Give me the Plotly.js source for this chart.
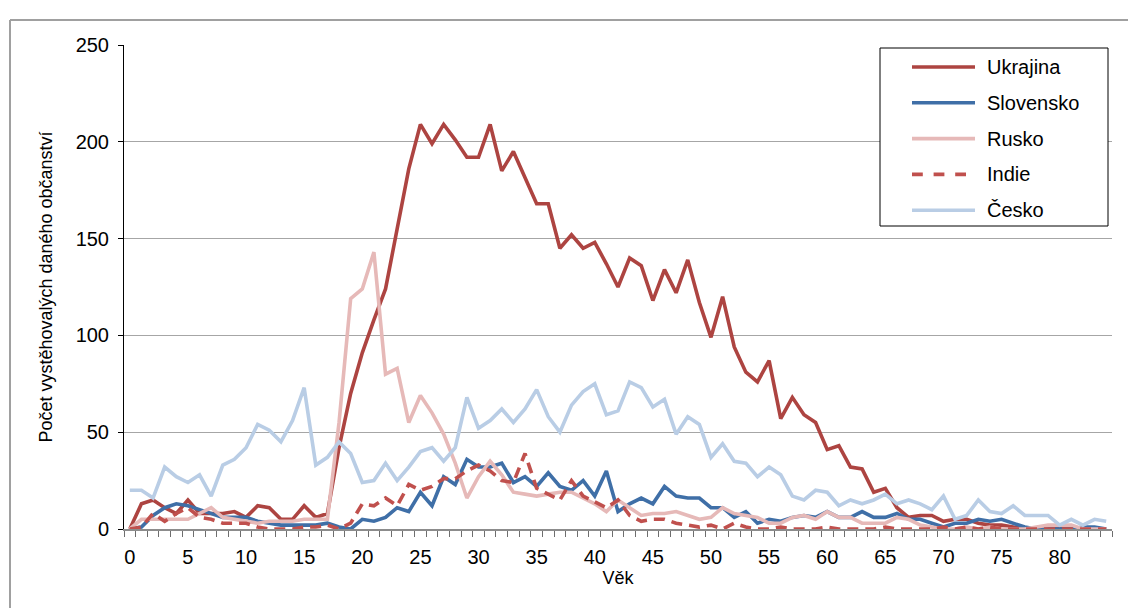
<!DOCTYPE html>
<html>
<head>
<meta charset="utf-8">
<script src="https://cdn.plot.ly/plotly-3.0.1.min.js"></script>
<style>html,body{margin:0;padding:0;background:#fff;}#chart{width:1128px;height:608px;}</style>
</head>
<body>
<div id="chart"></div>
<script>
var ages = [0,1,2,3,4,5,6,7,8,9,10,11,12,13,14,15,16,17,18,19,20,21,22,23,24,25,26,27,28,29,30,31,32,33,34,35,36,37,38,39,40,41,42,43,44,45,46,47,48,49,50,51,52,53,54,55,56,57,58,59,60,61,62,63,64,65,66,67,68,69,70,71,72,73,74,75,76,77,78,79,80,81,82,83,84];

var ukrajina = [0,13,15,11,8,15,8,8,8,9,6,12,11,5,5,12,6,8,42,70,91,108,124,155,186,209,199,209,201,192,192,209,185,195,182,168,168,145,152,145,148,137,125,140,136,118,134,122,139,117,99,120,94,81,76,87,57,68,59,55,41,43,32,31,19,21,11,6,7,7,4,5,5,3,2,2,1,0,0,0,1,0,0,0,0];

var slovensko = [0,1,7,11,13,12,10,8,6,6,6,4,3,2,2,2,2,3,1,0,5,4,6,11,9,19,12,27,23,36,32,32,34,24,27,22,29,22,20,25,17,30,9,13,16,13,22,17,16,16,11,11,6,9,3,5,4,6,7,6,9,6,6,9,6,6,8,5,5,3,1,3,3,5,4,5,3,1,0,0,0,0,1,1,0];

var rusko = [0,5,5,5,5,5,8,11,6,5,4,3,4,4,4,5,5,5,55,119,124,143,80,83,55,69,60,49,34,16,27,35,28,19,18,17,18,19,19,16,13,9,15,11,7,8,8,9,7,5,6,11,8,7,6,3,3,6,7,5,9,6,6,3,3,3,6,5,2,1,0,0,1,0,1,0,0,0,1,2,2,2,0,0,0];

var indie = [0,1,8,4,8,11,6,5,3,3,3,1,0,0,0,1,1,2,0,3,13,12,16,12,23,20,22,26,26,30,33,30,25,24,39,21,18,15,25,17,14,11,15,7,4,5,5,3,2,1,2,0,3,1,0,0,1,0,0,0,1,0,0,0,0,1,0,0,0,0,1,0,1,0,1,0,0,0,0,0,0,0,0,0,0];

var cesko = [20,20,16,32,27,24,28,17,33,36,42,54,51,45,56,73,33,37,45,39,24,25,34,25,32,40,42,35,42,68,52,56,62,55,62,72,58,50,64,71,75,59,61,76,73,63,67,49,58,54,37,44,35,34,27,32,28,17,15,20,19,12,15,13,15,18,13,15,13,10,17,5,7,15,9,8,12,7,7,7,2,5,2,5,4];

var seriesNames = ["Ukrajina","Slovensko","Rusko","Indie","Česko"];
var seriesValues = [ukrajina, slovensko, rusko, indie, cesko];
var seriesColors = ["#AD4441", "#3F6FA7", "#E6B9B8", "#C0504D", "#B9CDE5"];
var seriesDash = ["solid", "solid", "solid", "11px,7px", "solid"];
var xTickVals = [0,5,10,15,20,25,30,35,40,45,50,55,60,65,70,75,80];
var yTickVals = [0,50,100,150,200,250];

var FONT = "Liberation Sans, Arial, sans-serif";
var LW = 3.6;

var data = seriesNames.map(function(name, i){
  return {
    type: "scatter", mode: "lines", name: name, x: ages, y: seriesValues[i],
    line: {color: seriesColors[i], width: LW, dash: seriesDash[i]},
    hoverinfo: "skip", showlegend: false
  };
});

// plot area in px
var L = 124, R = 1112, T = 45, B = 529;
function px(x){ return (x - L) / (R - L); }
function py(y){ return (B - y) / (B - T); }

var shapes = [
  {type: "rect", xref: "paper", yref: "paper", x0: px(880), x1: px(1108), y0: py(48), y1: py(226),
   line: {color: "#000", width: 1}, fillcolor: "#fff", layer: "above"},
  {type: "line", xref: "paper", yref: "paper", x0: px(10), x1: px(10), y0: py(20), y1: py(612),
   line: {color: "#A0A0A0", width: 2}},
  {type: "line", xref: "paper", yref: "paper", x0: px(10), x1: px(1130), y0: py(20), y1: py(20),
   line: {color: "#A0A0A0", width: 2}}
];
var annotations = [];
seriesNames.forEach(function(name, i){
  var yy = 67 + i * 35.8;
  shapes.push({type: "line", xref: "paper", yref: "paper", x0: px(912), x1: px(975), y0: py(yy), y1: py(yy),
    line: {color: seriesColors[i], width: LW, dash: i === 3 ? "dash" : "solid"}, layer: "above"});
  annotations.push({xref: "paper", yref: "paper", x: px(985), y: py(yy), xanchor: "left", yanchor: "middle",
    text: name, showarrow: false, font: {family: FONT, size: 20, color: "#000"}});
});

var layout = {
  width: 1128, height: 608,
  margin: {l: L, r: 1128 - R, t: T, b: 608 - B, pad: 0},
  paper_bgcolor: "#fff", plot_bgcolor: "#fff",
  font: {family: FONT, size: 20, color: "#000"},
  showlegend: false,
  xaxis: {
    range: [-0.5, 84.5], fixedrange: true,
    tickmode: "array", tickvals: xTickVals, ticktext: xTickVals.map(String),
    ticks: "", ticklabelstandoff: 9,
    tickfont: {family: FONT, size: 20, color: "#000"},
    showline: true, linecolor: "#8C8C8C", linewidth: 2,
    showgrid: false, zeroline: false,
    minor: {ticks: "outside", ticklen: 6, tickcolor: "#6E6E6E", tickwidth: 1, dtick: 1, tick0: 0.5, showgrid: false},
    title: {text: "Věk", font: {family: FONT, size: 18, color: "#000"}, standoff: 4}
  },
  yaxis: {
    range: [0, 250], fixedrange: true,
    tickmode: "array", tickvals: yTickVals,
    ticks: "outside", ticklen: 5, tickcolor: "#000", tickwidth: 1,
    ticklabelstandoff: 5,
    tickfont: {family: FONT, size: 20, color: "#000"},
    showline: true, linecolor: "#000", linewidth: 1,
    showgrid: true, gridcolor: "#A6A6A6", gridwidth: 1,
    zeroline: false,
    title: {text: "Počet vystěhovalých daného občanství", font: {family: FONT, size: 18, color: "#000"}, standoff: 18}
  },
  shapes: shapes,
  annotations: annotations
};

Plotly.newPlot("chart", data, layout, {displayModeBar: false, staticPlot: true});
</script>
</body>
</html>
